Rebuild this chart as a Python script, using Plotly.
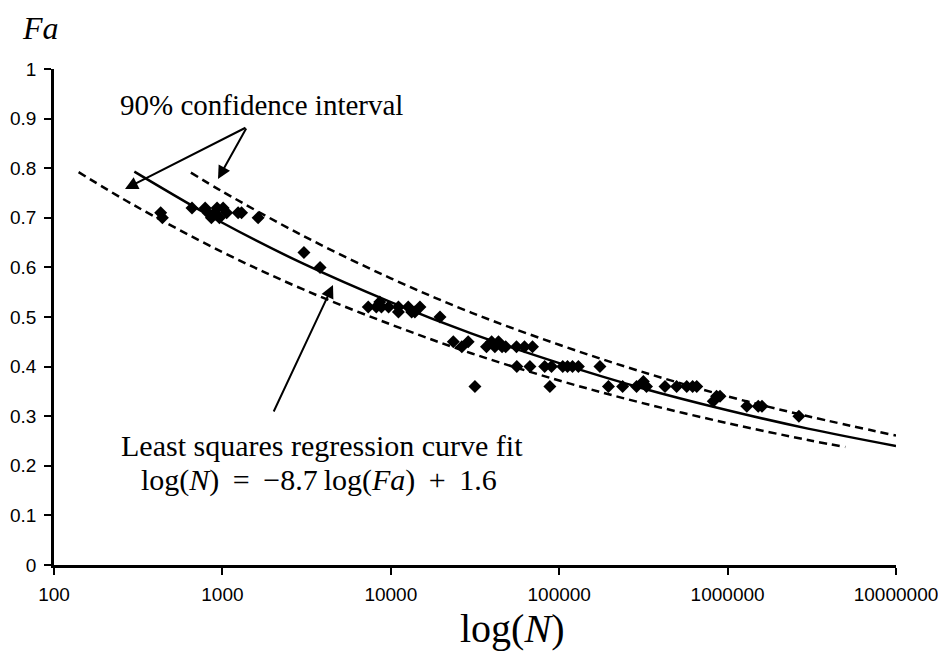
import plotly.graph_objects as go

# ---------------- data ----------------
pts_N = [430, 440, 660, 790, 820, 860, 900, 930, 960, 1010, 1060, 1240, 1300, 1630,
         3050, 3800,
         7350, 8200, 8600, 8800, 9700, 11100, 11100, 12700, 13300, 13900, 14900,
         19600, 23500, 26400, 28800, 31600,
         37000, 39700, 41500, 43600, 45800, 48100, 55800, 62200, 69400,
         56000, 67000, 82000, 90000, 88000,
         105000, 112000, 120000, 130000,
         174600, 196000, 238000, 288000, 316000, 330000, 425000, 498000, 572000, 620000, 656000,
         822000, 860000, 901000,
         1300000, 1520000, 1600000, 2650000]
pts_Fa = [0.71, 0.70, 0.72, 0.72, 0.71, 0.70, 0.71, 0.72, 0.70, 0.72, 0.71, 0.71, 0.71, 0.70,
          0.63, 0.60,
          0.52, 0.52, 0.53, 0.52, 0.52, 0.52, 0.51, 0.52, 0.51, 0.51, 0.52,
          0.50, 0.45, 0.44, 0.45, 0.36,
          0.44, 0.45, 0.44, 0.45, 0.44, 0.44, 0.44, 0.44, 0.44,
          0.40, 0.40, 0.40, 0.40, 0.36,
          0.40, 0.40, 0.40, 0.40,
          0.40, 0.36, 0.36, 0.36, 0.37, 0.36, 0.36, 0.36, 0.36, 0.36, 0.36,
          0.33, 0.34, 0.34,
          0.32, 0.32, 0.32, 0.30]

fit_N = [300, 1000, 3000, 10000, 30000, 100000, 300000, 1000000, 3000000, 10000000]
fit_Fa = [0.793, 0.690, 0.608, 0.530, 0.467, 0.407, 0.358, 0.312, 0.275, 0.240]

upper_N = [650, 1000, 3000, 10000, 30000, 100000, 300000, 1000000, 3000000, 10000000]
upper_Fa = [0.791, 0.753, 0.664, 0.578, 0.509, 0.444, 0.391, 0.340, 0.300, 0.261]

lower_N = [140, 300, 1000, 3000, 10000, 30000, 100000, 300000, 1000000, 3000000, 5000000]
lower_Fa = [0.792, 0.725, 0.631, 0.556, 0.485, 0.427, 0.372, 0.328, 0.286, 0.252, 0.238]

x_ticks = [100, 1000, 10000, 100000, 1000000, 10000000]
x_ticktext = ["100", "1000", "10000", "100000", "1000000", "10000000"]
y_ticks = [0, 0.1, 0.2, 0.3, 0.4, 0.5, 0.6, 0.7, 0.8, 0.9, 1]
y_ticktext = ["0", "0.1", "0.2", "0.3", "0.4", "0.5", "0.6", "0.7", "0.8", "0.9", "1"]

# ---------------- figure ----------------
W, H = 946, 656
OFF = 8  # page body margin offset of the rendered figure
# target plot area in screen pixels
X0, X1, Y0, Y1 = 54, 896, 69, 565
pw, ph = X1 - X0, Y1 - Y0


def px(x):
    return (x - X0) / pw


def py(y):
    return (Y1 - y) / ph


SERIF = "Liberation Serif, DejaVu Serif, serif"
SANS = "Liberation Sans, Arial, sans-serif"

fig = go.Figure()
fig.add_trace(go.Scatter(x=lower_N, y=lower_Fa, mode="lines", line_shape="spline",
                         line=dict(color="black", width=2.5, dash="8px,5px"), hoverinfo="skip"))
fig.add_trace(go.Scatter(x=upper_N, y=upper_Fa, mode="lines", line_shape="spline",
                         line=dict(color="black", width=2.5, dash="8px,5px"), hoverinfo="skip"))
fig.add_trace(go.Scatter(x=fit_N, y=fit_Fa, mode="lines", line_shape="spline",
                         line=dict(color="black", width=2.5), hoverinfo="skip"))
fig.add_trace(go.Scatter(x=pts_N, y=pts_Fa, mode="markers",
                         marker=dict(symbol="diamond", size=10, color="black"), hoverinfo="skip"))


def label(text, x, y, size):
    return dict(text=text, x=px(x), y=py(y), xref="paper", yref="paper",
                xanchor="center", yanchor="middle", showarrow=False,
                font=dict(family=SERIF, size=size, color="black"))


ann = [
    label("<i>Fa</i>", 40, 28, 32),
    label("log(<i>N</i>)", 512, 628, 40),
    label("90% confidence interval", 261, 105, 29),
    label("Least squares regression curve fit", 322, 446, 30),
    label("log(<i>N</i>)\u2009 = \u2009\u22128.7\u2009log(<i>Fa</i>)\u2009 + \u20091.6", 319, 480, 30),
]
# arrows (head, tail) in pixels
arrows = [((125, 189), (247, 127)), ((218, 179), (247, 127)), ((333, 285), (273, 413))]
for (hx, hy), (tx, ty) in arrows:
    ann.append(dict(text="", x=px(hx), y=py(hy), xref="paper", yref="paper",
                    ax=tx - hx, ay=ty - hy, axref="pixel", ayref="pixel",
                    showarrow=True, arrowhead=2, arrowsize=1.3, arrowwidth=2,
                    arrowcolor="black", standoff=0))

fig.update_layout(
    width=W, height=H,
    margin=dict(l=X0 - OFF, r=W + OFF - X1, t=Y0 - OFF, b=H + OFF - Y1, autoexpand=False),
    paper_bgcolor="white", plot_bgcolor="white", showlegend=False,
    annotations=ann, hovermode=False,
    xaxis=dict(type="log", range=[2, 7], tickvals=x_ticks, ticktext=x_ticktext,
               showgrid=False, zeroline=False, showline=True, linecolor="black", linewidth=2.5,
               ticks="outside", ticklen=7, tickwidth=2, tickcolor="black",
               tickfont=dict(family=SANS, size=19, color="black"), ticklabelstandoff=3),
    yaxis=dict(range=[0, 1], tickvals=y_ticks, ticktext=y_ticktext,
               showgrid=False, zeroline=False, showline=True, linecolor="black", linewidth=2.5,
               ticks="outside", ticklen=7, tickwidth=2, tickcolor="black",
               tickfont=dict(family=SANS, size=19, color="black"), ticklabelstandoff=4),
)

fig.write_html("out.html")
